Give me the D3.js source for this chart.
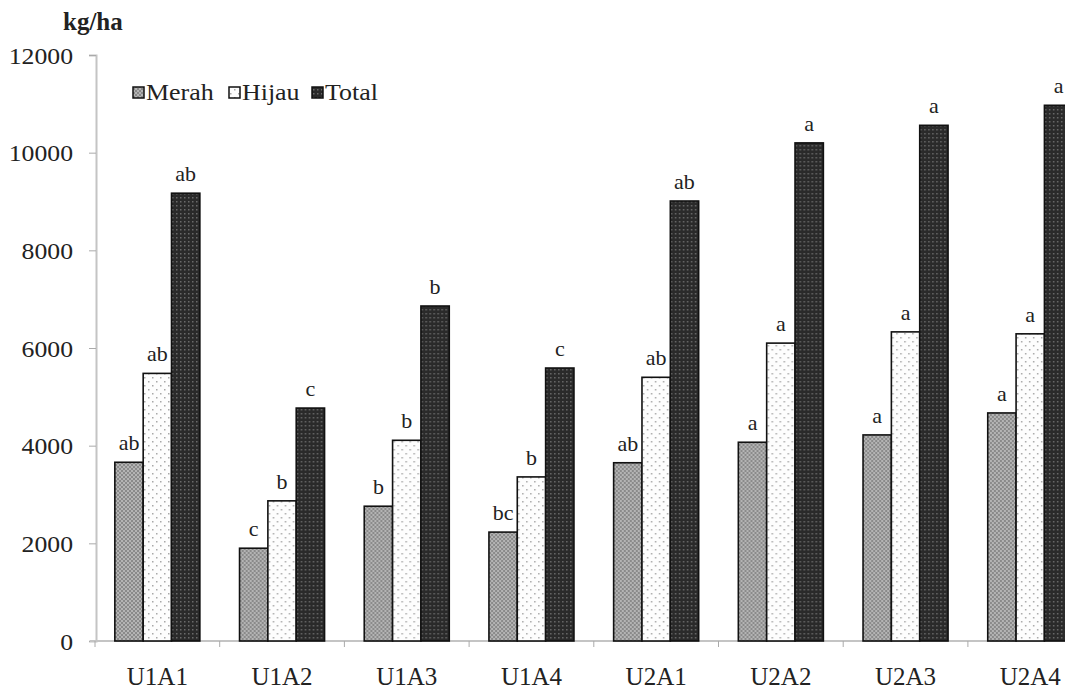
<!DOCTYPE html>
<html lang="id">
<head>
    <meta charset="UTF-8">
    <title>kg/ha</title>
    <script src="https://cdn.jsdelivr.net/npm/d3@7"></script>
    <style>
        body{ margin:0; background:#fff; }
        svg{ display:block; }
        .tick text{ fill:#222; }
    </style>
</head>
<body>
<script>
    // data
    var categories = ['U1A1','U1A2','U1A3','U1A4','U2A1','U2A2','U2A3','U2A4'];
    var seriesNames = ['Merah','Hijau','Total'];
    var merah = [3660, 1900, 2760, 2230, 3650, 4070, 4220, 4670];
    var hijau = [5480, 2870, 4110, 3360, 5400, 6100, 6330, 6290];
    var total = [9170, 4770, 6860, 5590, 9010, 10200, 10560, 10970];
    var merahLetters = ['ab','c','b','bc','ab','a','a','a'];
    var hijauLetters = ['ab','b','b','b','ab','a','a','a'];
    var totalLetters = ['ab','c','b','c','ab','a','a','a'];
    var yTicks = [0, 2000, 4000, 6000, 8000, 10000, 12000];

    var serif = "'Liberation Serif','Times New Roman',serif";
    var width = 1065, height = 691;
    var svg = d3.select('body').append('svg')
        .attr('width', width).attr('height', height)
        .attr('font-family', serif);

    // fill patterns
    var defs = svg.append('defs');
    var pM = defs.append('pattern').attr('id','pMerah').attr('patternUnits','userSpaceOnUse')
        .attr('width',4).attr('height',4);
    pM.append('rect').attr('width',4).attr('height',4).attr('fill','#b4b4b4');
    pM.append('rect').attr('x',0).attr('y',0).attr('width',2).attr('height',2).attr('fill','#8a8a8a');
    pM.append('rect').attr('x',2).attr('y',2).attr('width',2).attr('height',2).attr('fill','#8a8a8a');

    var pH = defs.append('pattern').attr('id','pHijau').attr('patternUnits','userSpaceOnUse')
        .attr('width',8).attr('height',8);
    pH.append('rect').attr('width',8).attr('height',8).attr('fill','#fdfdfd');
    pH.append('rect').attr('x',1).attr('y',1).attr('width',1.5).attr('height',1.5).attr('fill','#a8a8a8');
    pH.append('rect').attr('x',5).attr('y',5).attr('width',1.5).attr('height',1.5).attr('fill','#a8a8a8');

    var pT = defs.append('pattern').attr('id','pTotal').attr('patternUnits','userSpaceOnUse')
        .attr('width',4).attr('height',4);
    pT.append('rect').attr('width',4).attr('height',4).attr('fill','#2a2a2a');
    pT.append('rect').attr('x',1).attr('y',1).attr('width',1.5).attr('height',1.5).attr('fill','#6a6a6a');

    var fills = {Merah:'url(#pMerah)', Hijau:'url(#pHijau)', Total:'url(#pTotal)'};

    // scales
    var x0 = d3.scaleBand().domain(categories).range([95, 95 + 8 * 124.7]).padding(0);
    var x1 = d3.scaleBand().domain(seriesNames).range([0, x0.bandwidth()])
        .paddingInner(0).paddingOuter(0.7);
    var y = d3.scaleLinear().domain([0, 12000]).range([641, 55]);

    // y axis
    var sx = 1.12;
    var yAxis = svg.append('g').attr('transform','translate(96,0)')
        .call(d3.axisLeft(y).tickValues(yTicks).tickFormat(d3.format('d')).tickSize(7));
    yAxis.attr('font-family', serif);
    yAxis.select('.domain').attr('stroke','#c4c4c4').attr('stroke-width',2);
    yAxis.selectAll('.tick line').attr('stroke','#aaa');
    yAxis.selectAll('.tick text').attr('font-size',23).attr('dy','0.35em')
        .attr('transform','scale(' + sx + ',1)').attr('x', -23 / sx);

    // x axis
    var xAxis = svg.append('g').attr('transform','translate(0,641)');
    xAxis.append('line').attr('x1',90).attr('x2',width).attr('stroke','#c4c4c4').attr('stroke-width',2);
    xAxis.selectAll('.xt').data(categories).enter().append('line')
        .attr('class','xt')
        .attr('x1', function(d){ return x0(d); }).attr('x2', function(d){ return x0(d); })
        .attr('y1',0).attr('y2',6).attr('stroke','#aaa');
    xAxis.selectAll('.xl').data(categories).enter().append('text')
        .attr('class','xl')
        .attr('x', function(d){ return x0(d) + x0.bandwidth() / 2; })
        .attr('y', 44)
        .attr('text-anchor','middle').attr('font-size',25).attr('fill','#222')
        .text(function(d){ return d; });

    // bars
    var rows = categories.map(function(c, i){
        return [
            {cat:c, key:'Merah', value:merah[i], letter:merahLetters[i]},
            {cat:c, key:'Hijau', value:hijau[i], letter:hijauLetters[i]},
            {cat:c, key:'Total', value:total[i], letter:totalLetters[i]}
        ];
    });

    var groups = svg.selectAll('.grp').data(rows).enter().append('g')
        .attr('class','grp')
        .attr('transform', function(d){ return 'translate(' + x0(d[0].cat) + ',0)'; });

    groups.selectAll('rect').data(function(d){ return d; }).enter().append('rect')
        .attr('x', function(d){ return x1(d.key); })
        .attr('y', function(d){ return y(d.value); })
        .attr('width', x1.bandwidth())
        .attr('height', function(d){ return y(0) - y(d.value); })
        .attr('fill', function(d){ return fills[d.key]; })
        .attr('stroke','#111').attr('stroke-width',1.6);

    groups.selectAll('.lt').data(function(d){ return d; }).enter().append('text')
        .attr('class','lt')
        .attr('x', function(d){ return x1(d.key) + x1.bandwidth() / 2; })
        .attr('y', function(d){ return y(d.value) - 12; })
        .attr('text-anchor','middle').attr('font-size',22).attr('fill','#222')
        .text(function(d){ return d.letter; });

    // unit label
    svg.append('text').attr('x',63).attr('y',30)
        .attr('font-size',25).attr('font-weight','bold').attr('fill','#222')
        .text('kg/ha');

    // legend
    var legend = svg.append('g').attr('transform','translate(133,100)');
    var legXs = [0, 96, 179];
    seriesNames.forEach(function(s, i){
        var g = legend.append('g').attr('transform','translate(' + legXs[i] + ',0)');
        g.append('rect').attr('x',0).attr('y',-13).attr('width',11).attr('height',11)
            .attr('fill', fills[s]).attr('stroke','#111').attr('stroke-width',1.5);
        g.append('text').attr('transform','translate(13,0) scale(1.08,1)')
            .attr('font-size',24).attr('fill','#222')
            .text(s);
    });
</script>
</body>
</html>
